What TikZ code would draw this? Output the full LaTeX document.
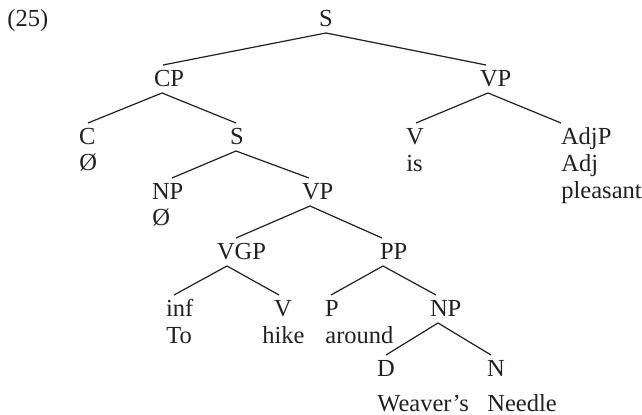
\documentclass[tikz,border=0pt]{standalone}
\usepackage{fontspec}
\setmainfont{Liberation Serif}
\usepackage{tikz}

\definecolor{ink}{RGB}{35,31,32}

\begin{document}
\begin{tikzpicture}[
        x=0.5pt, y=-0.5pt,
        cat/.style={anchor=base west, inner sep=0pt, outer xsep=0pt, outer ysep=3pt, text height=8pt, text depth=0pt, font=\fontsize{12.25}{14}\selectfont, text=ink},
        word/.style={anchor=base west, inner sep=0pt, font=\fontsize{12.25}{14}\selectfont, text=ink},
        branch/.style={line width=0.6pt, draw=ink},
    ]
    \useasboundingbox (0,0) rectangle (642,415);

    % Example number
    \node[word] (ex) at (7,27) {(25)};

    % === TOP LEVEL ===
    \node[cat] (s) at (319,27) {S};
    \node[cat] (cp) at (154,87) {CP};
    \node[cat] (vp) at (480,87) {VP};

    % === CP SUBTREE ===
    \node[cat] (c) at (79,145) {C};
    \node[word] (c-w) at (79,171) {Ø};
    \node[cat] (s2) at (230,145) {S};

    \node[cat] (np) at (152,200) {NP};
    \node[word] (np-w) at (152,226) {Ø};
    \node[cat] (vp2) at (302,200) {VP};

    \node[cat] (vgp) at (217,260) {VGP};
    \node[cat] (pp) at (380,260) {PP};

    % VGP daughters
    \node[cat] (inf) at (166,317) {inf};
    \node[word] (inf-w) at (166,344) {To};
    \node[cat] (v2) at (274,317) {V};
    \node[word, anchor=base] (v2-w) at (283.5,344) {hike};

    % PP daughters
    \node[cat] (p) at (325,317) {P};
    \node[word] (p-w) at (325,344) {around};
    \node[cat] (np3) at (430,317) {NP};
    \node[cat] (d) at (377,377) {D};
    \node[word] (d-w) at (377,412) {Weaver’s};
    \node[cat] (n) at (487,377) {N};
    \node[word] (n-w) at (487,412) {Needle};

    % === VP SUBTREE ===
    \node[cat] (v) at (406,145) {V};
    \node[word] (v-w) at (406,172) {is};
    \node[cat] (adjp) at (561,145) {AdjP};
    \node[word] (adj) at (561,172) {Adj};
    \node[word] (adj-w) at (561,199) {pleasant};

    % Branches: mother/offset/daughter/offset
    \foreach \a/\da/\b/\db in {s/3.5/cp/4.5, s/3.5/vp/3, cp/4/c/4.5, cp/4/s2/3, vp/4/v/5, vp/4/adjp/0, s2/3/np/10, s2/3/vp2/3.5, vp2/4/vgp/9.5, vp2/4/pp/1, vgp/5/inf/4, vgp/5/v2/2.5, pp/1.5/p/3, pp/1.5/np3/3, np3/4/d/4.5, np3/4/n/2}
        \draw[branch] ([xshift=\da pt]\a.south west) -- ([xshift=\db pt]\b.north west);

\end{tikzpicture}
\end{document}
